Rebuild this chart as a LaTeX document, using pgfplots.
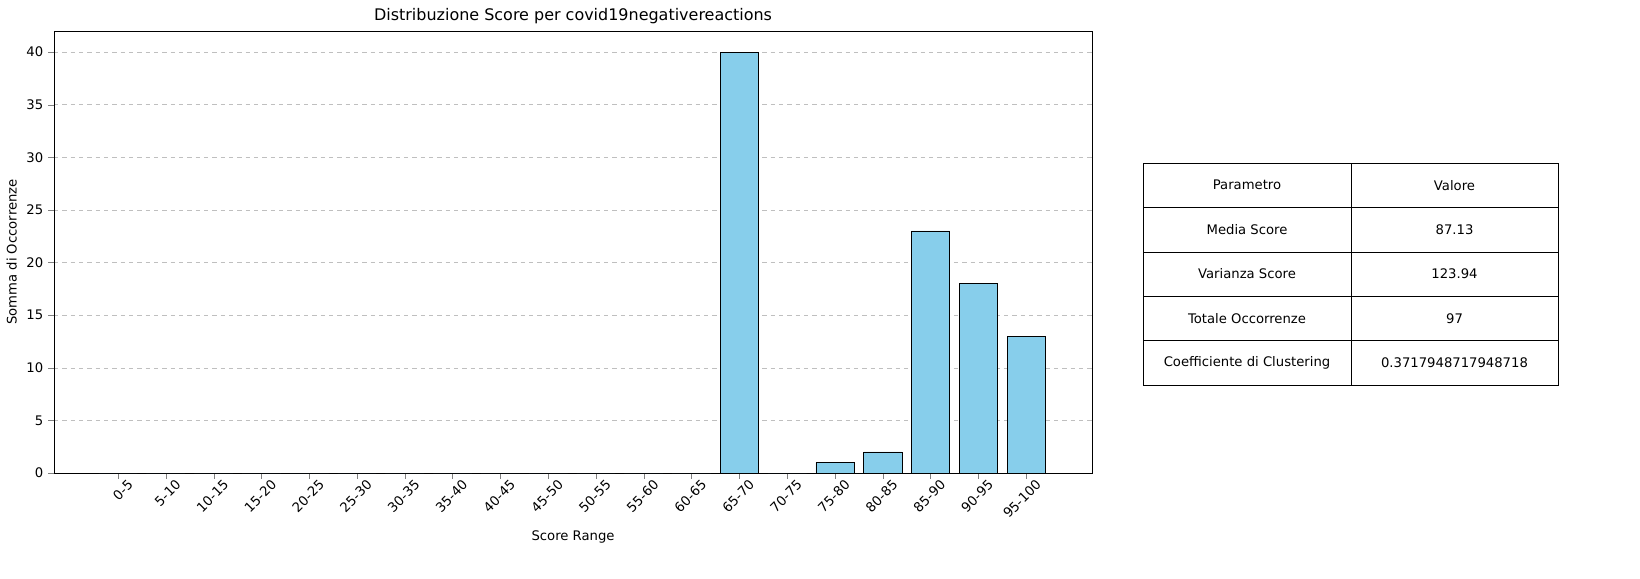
\documentclass[border=0pt]{standalone}
\usepackage{pgfplots}
\pgfplotsset{compat=1.18}
\usepackage{fontspec}
\setmainfont{DejaVu Sans}
\definecolor{skyb}{HTML}{87CEEB}
\begin{document}
\begin{tikzpicture}
\begin{axis}[at={(38.9pt,75.6pt)},anchor=south west,scale only axis,
width=747.4pt,height=318.2pt,
xmin=-1.34,xmax=20.38,ymin=0,ymax=42,
xtick={0,...,19},
xticklabels={0-5,5-10,10-15,15-20,20-25,25-30,30-35,35-40,40-45,45-50,50-55,55-60,60-65,65-70,70-75,75-80,80-85,85-90,90-95,95-100},
xticklabel style={rotate=45,anchor=north east,font=\fontsize{9.5}{11}\selectfont,xshift=8pt,yshift=-1pt},
yticklabel style={font=\fontsize{9.5}{11}\selectfont},
ytick={0,5,...,40},
tick align=outside,xtick pos=bottom,ytick pos=left,
ymajorgrids,grid style={dashed,gray!50},
/pgf/number format/assume math mode=true,
title={Distribuzione Score per covid19negativereactions},
title style={font=\fontsize{11.5}{14}\selectfont,yshift=-4pt},
xlabel={Score Range},ylabel={Somma di Occorrenze},
label style={font=\fontsize{9.5}{12}\selectfont},
]
\addplot[ybar,bar width=0.8,fill=skyb,draw=black] coordinates {
(0,0)(1,0)(2,0)(3,0)(4,0)(5,0)(6,0)(7,0)(8,0)(9,0)(10,0)(11,0)(12,0)(13,40)(14,0)(15,1)(16,2)(17,23)(18,18)(19,13)};
\end{axis}
\begin{scope}[x=0.72pt,y=-0.72pt,shift={(0,416.16pt)},font=\fontsize{9.5}{12}\selectfont]
\draw (1143,163) rectangle (1558,385);
\foreach \y in {207.4,251.8,296.2,340.6} \draw (1143,\y)--(1558,\y);
\draw (1351,163)--(1351,385);
\foreach \a/\b [count=\i from 0] in {Parametro/Valore,Media Score/87.13,Varianza Score/123.94,Totale Occorrenze/97,Coefficiente di Clustering/0.3717948717948718}{
 \node at (1247,185.2+44.4*\i) {\a};
 \node at (1454.5,185.2+44.4*\i) {\b};}
\end{scope}
\pgfresetboundingbox
\path[use as bounding box] (0,0) rectangle (1180.8pt,416.16pt);
\end{tikzpicture}
\end{document}
